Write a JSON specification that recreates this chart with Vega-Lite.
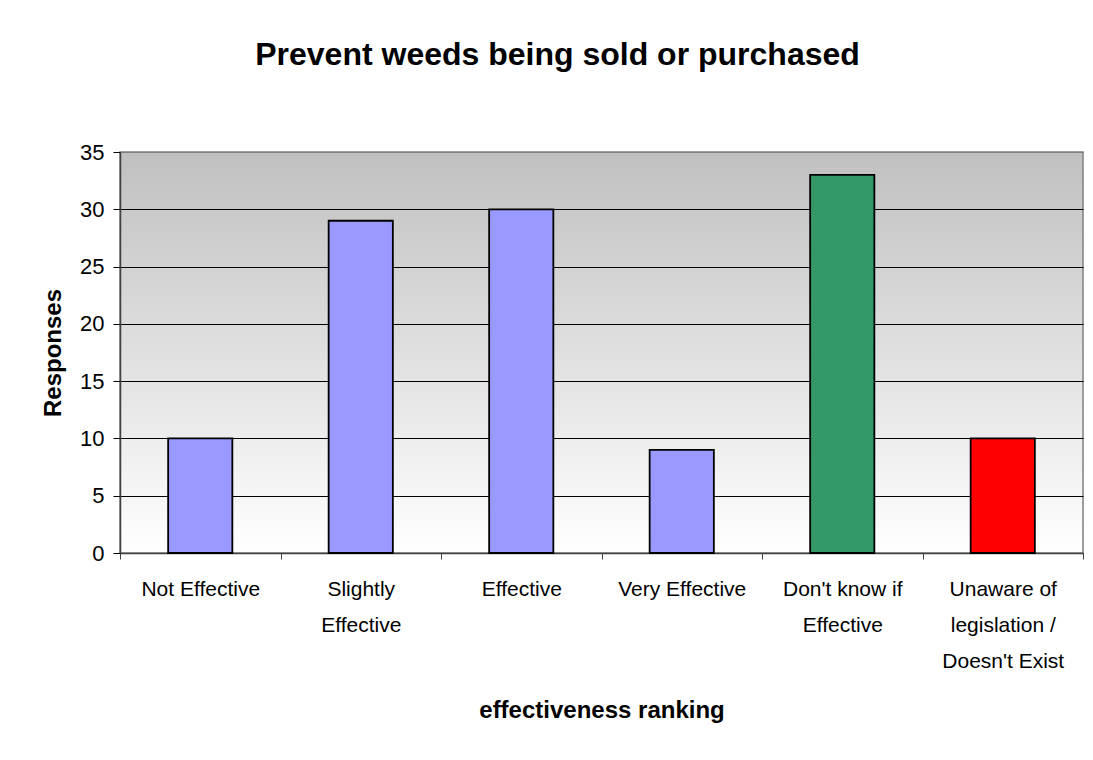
{
  "$schema": "https://vega.github.io/schema/vega-lite/v6.json",
  "width": 963,
  "height": 401,
  "autosize": {"type": "none"},
  "padding": {"left": 120, "top": 152, "right": 10, "bottom": 207},
  "background": "white",
  "title": {
    "text": "Prevent weeds being sold or purchased",
    "font": "Liberation Sans",
    "fontSize": 32,
    "fontWeight": "bold",
    "color": "#000000",
    "anchor": "middle",
    "frame": "bounds",
    "offset": 69,
    "dx": -5
  },
  "data": {
    "values": [
      {"category": "Not Effective", "responses": 10},
      {"category": "Slightly Effective", "responses": 29},
      {"category": "Effective", "responses": 30},
      {"category": "Very Effective", "responses": 9},
      {"category": "Don't know if Effective", "responses": 33},
      {"category": "Unaware of legislation / Doesn't Exist", "responses": 10}
    ]
  },
  "mark": {"type": "bar", "width": {"band": 0.4}, "stroke": "#000000", "strokeWidth": 1.8},
  "encoding": {
    "x": {
      "field": "category",
      "type": "nominal",
      "sort": null,
      "scale": {"paddingInner": 0, "paddingOuter": 0},
      "axis": {
        "title": "effectiveness ranking",
        "titleFont": "Liberation Sans",
        "titleFontSize": 24,
        "titleFontWeight": "bold",
        "titleColor": "#000000",
        "titlePadding": 27,
        "labelAngle": 0,
        "labelFont": "Liberation Sans",
        "labelFontSize": 21,
        "labelColor": "#000000",
        "labelLineHeight": 36,
        "labelPadding": 19,
        "labelLimit": 300,
        "labelOverlap": false,
        "labelExpr": "datum.value == 'Slightly Effective' ? ['Slightly', 'Effective'] : datum.value == \"Don't know if Effective\" ? [\"Don't know if\", 'Effective'] : datum.value == \"Unaware of legislation / Doesn't Exist\" ? ['Unaware of', 'legislation /', \"Doesn't Exist\"] : datum.value",
        "tickBand": "extent",
        "tickSize": 6,
        "tickColor": "#404040",
        "domainColor": "#404040",
        "domainWidth": 1.5
      }
    },
    "y": {
      "field": "responses",
      "type": "quantitative",
      "scale": {"domain": [0, 35], "nice": false},
      "axis": {
        "values": [0, 5, 10, 15, 20, 25, 30, 35],
        "title": "Responses",
        "titleFont": "Liberation Sans",
        "titleFontSize": 24,
        "titleFontWeight": "bold",
        "titleColor": "#000000",
        "titlePadding": 14,
        "labelFont": "Liberation Sans",
        "labelFontSize": 22,
        "labelColor": "#000000",
        "labelPadding": 9,
        "tickSize": 7,
        "tickColor": "#000000",
        "domainColor": "#404040",
        "domainWidth": 1.5,
        "grid": true,
        "gridColor": {"condition": {"test": "datum.value == 35", "value": "#808080"}, "value": "#000000"},
        "gridWidth": 1,
        "gridOpacity": 1
      }
    },
    "color": {
      "field": "category",
      "type": "nominal",
      "sort": null,
      "scale": {
        "domain": ["Not Effective", "Slightly Effective", "Effective", "Very Effective", "Don't know if Effective", "Unaware of legislation / Doesn't Exist"],
        "range": ["#9999FF", "#9999FF", "#9999FF", "#9999FF", "#339966", "#FF0000"]
      },
      "legend": null
    }
  },
  "config": {
    "view": {
      "fill": {
        "gradient": "linear",
        "x1": 0, "y1": 0, "x2": 0, "y2": 1,
        "stops": [
          {"offset": 0, "color": "#c0c0c0"},
          {"offset": 1, "color": "#ffffff"}
        ]
      },
      "stroke": "#808080",
      "strokeWidth": 1.5
    }
  }
}
